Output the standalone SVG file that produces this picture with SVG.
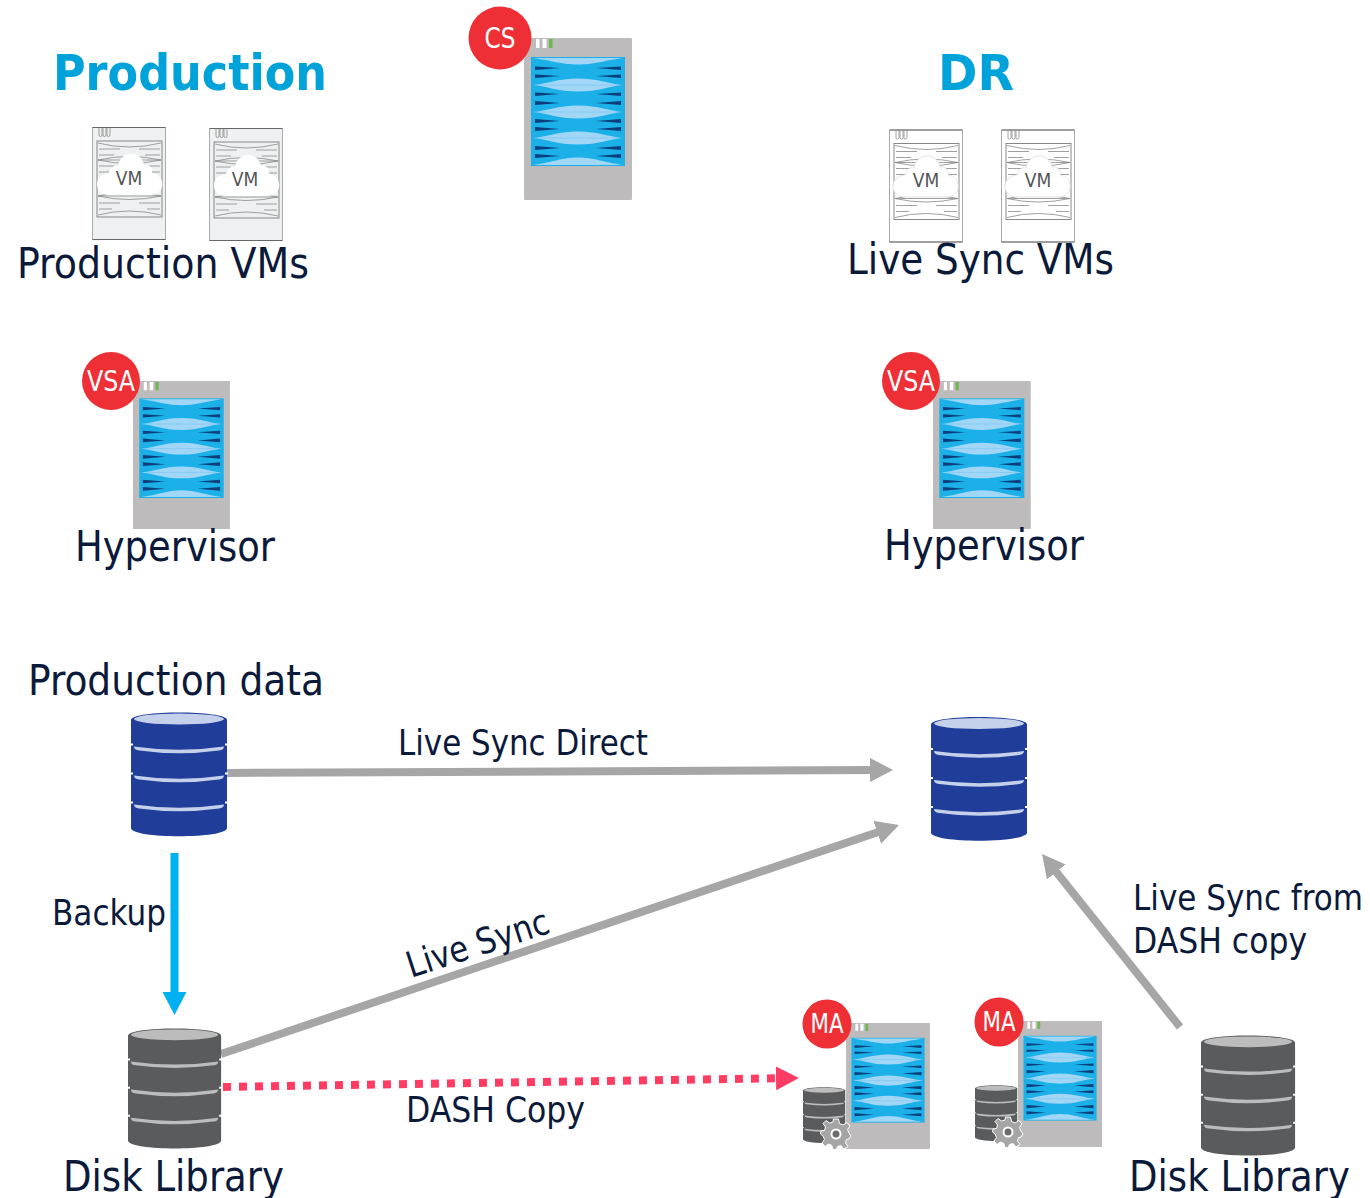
<svg xmlns="http://www.w3.org/2000/svg" width="1370" height="1198" viewBox="0 0 1370 1198">
<style>
text{font-family:"DejaVu Sans Condensed","DejaVu Sans",sans-serif;}
.t{font-size:43px;fill:#0b1a3a}
.m{font-size:36px;fill:#0b1a3a}
.h{font-size:50px;font-weight:bold;fill:#00a3d9}
.b{fill:#fff;text-anchor:middle}
.vm{font-size:19px;fill:#555;text-anchor:middle}
.c{stroke:#a6a6a6;stroke-width:8;fill:none}
</style>
<defs>
<marker id="ag" markerUnits="userSpaceOnUse" markerWidth="26" markerHeight="26" refX="2" refY="12" orient="auto"><path d="M0 0L23 12L0 24Z" fill="#a6a6a6"/></marker>
<marker id="ab" markerUnits="userSpaceOnUse" markerWidth="26" markerHeight="26" refX="2" refY="12" orient="auto"><path d="M0 0L23 12L0 24Z" fill="#00b0f0"/></marker>
<marker id="ar" markerUnits="userSpaceOnUse" markerWidth="26" markerHeight="26" refX="2" refY="12" orient="auto"><path d="M0 0L23 12L0 24Z" fill="#ff3d64"/></marker>
<path id="lens" d="M0 0C14 -1 24 -6.500 45 -6.500C66 -6.500 76 -1 90 0C76 1 66 6.500 45 6.500C24 6.500 14 1 0 0Z"/>
<g id="srv">
<rect width="108" height="162" fill="#bdbbbb" rx="1"/>
<path d="M12 1h3.500v9H12zM18.500 1h4v9h-4z" fill="#fff"/>
<rect x="25" y="1" width="3.500" height="9" fill="#6cb84c"/>
<rect x="7" y="19" width="94" height="109" fill="#1bb0e8"/>
<g fill="#a2d6f7">
<path d="M9 20H99C78 23 70 26.500 54 26.500C38 26.500 30 23 9 20Z"/>
<use href="#lens" x="9" y="47"/>
<use href="#lens" x="9" y="74"/>
<use href="#lens" x="9" y="100"/>
<path d="M9 127H99C78 124 70 119.500 54 119.500C38 119.500 30 124 9 127Z"/>
</g>
<path d="M14 47H94M14 74H94M14 100H94" stroke="#7cc8f0" stroke-width=".8"/>
<g fill="#0b3f7c">
<path d="M11 28.500L36 30L11 32ZM11 36.500L36 38L11 40ZM11 54.500L36 56L11 58ZM11 63L36 65L11 67ZM11 81L36 83L11 85ZM11 89L36 91L11 93ZM11 108L36 110L11 112ZM11 116L36 118L11 120Z"/>
<path d="M97 28.500L72 30L97 32ZM97 36.500L72 38L97 40ZM97 54.500L72 56L97 58ZM97 63L72 65L97 67ZM97 81L72 83L97 85ZM97 89L72 91L97 93ZM97 108L72 110L97 112ZM97 116L72 118L97 120Z"/>
</g>
</g>
<g id="vmbox">
<path d="M0.500 0.500H73.500V112.500H0.500Z" stroke="#aaa" stroke-width="1"/>
<path d="M0.500 0.500H73.500M0.500 112.500H73.500" stroke="#666" stroke-width="1"/>
<rect x="5" y="14" width="65" height="76" fill="none" stroke="#888" stroke-width="1"/>
<path d="M7 1v7a1.500 1.500 0 0 0 3 0v-7M11 1v7a1.500 1.500 0 0 0 3 0v-7M15 1v7a1.500 1.500 0 0 0 3 0v-7" fill="none" stroke="#888" stroke-width=".8"/>
<g fill="none" stroke="#888" stroke-width=".8">
<path d="M6 16Q37 24 69 16M6 33H69M6 69H69M6 88Q37 80 69 88"/>
<path d="M6 33Q37 26 69 33Q37 40 6 33M6 69Q37 62 69 69Q37 76 6 69"/>
<path d="M7 22H28M7 28H22M7 39H22M7 45H18M7 60H18M7 76H28M7 82H20M68 22H47M68 28H53M68 39H53M68 45H57M68 60H57M68 76H47M68 82H55"/>
</g>
</g>
<path id="cloud" d="M12 41C-4 41 -4 20 12 19C13 13 18 11 21 12C24 -4 44 -4 47 11C53 10 56 15 55 19C69 21 69 41 53 41Z"/>
<g id="cyl">
<path d="M0 8C0 -2 96 -2 96 8V116C96 127 0 127 0 116Z"/>
<ellipse cx="48" cy="7" rx="45" ry="5.500" fill="currentColor"/>
<path d="M3 34.500Q48 41 93 34.500Q93 38 88 38.500Q48 44 8 38.500Q3 38 3 34.500ZM3 63.500Q48 70 93 63.500Q93 67 88 67.500Q48 73 8 67.500Q3 67 3 63.500ZM3 92.500Q48 99 93 92.500Q93 96 88 96.500Q48 102 8 96.500Q3 96 3 92.500Z" fill="currentColor"/>
<path d="M-1 32.500H2M94 32.500H97M-1 61.500H2M94 61.500H97M-1 90.500H2M94 90.500H97" stroke="#fff" stroke-width="2"/>
</g>
<g id="gear">
<path d="M-2.500 -15H2.500L3.500 -10.500L7 -9L11 -11.500L14 -8L11.500 -4.500L13 -1L15 2L13 5L10.500 5.500L9.500 9L12 12.500L8 15L5 11.500L1.500 12.500L0 16L-3.500 15L-4 11.500L-7.500 10L-11 12.500L-14 9L-11.500 5.500L-13 2L-15.500 0L-15 -3L-11.500 -3.500L-10.500 -7L-13 -10.500L-10 -13.500L-6.500 -11L-3 -12Z" fill="#a5a5a5" stroke="#fff" stroke-width="1"/>
<circle r="5.500" fill="#fff"/><circle r="3.500" fill="#6b6b6b"/>
</g>
</defs>

<g id="connectors">
<path class="c" d="M227 773L872 770" marker-end="url(#ag)"/>
<path class="c" d="M221 1054L879.100 831.700" marker-end="url(#ag)"/>
<path class="c" d="M1180 1027L1055.100 870.400" marker-end="url(#ag)"/>
<path d="M174.500 853V994" stroke="#00b0f0" stroke-width="8" fill="none" marker-end="url(#ab)"/>
<path d="M223 1087L778 1078.300" stroke="#ff3d64" stroke-width="8" stroke-dasharray="8 8" fill="none" marker-end="url(#ar)"/>
</g>

<g id="title-production"><text class="h" x="53" y="90" textLength="274" lengthAdjust="spacingAndGlyphs">Production</text></g>
<g id="title-dr"><text class="h" x="938" y="90" textLength="76" lengthAdjust="spacingAndGlyphs">DR</text></g>

<g id="cs"><use href="#srv" transform="translate(524 38)"/><circle cx="500" cy="38" r="31.500" fill="#ef2f36"/><text class="b" x="500" y="48" font-size="29" textLength="31" lengthAdjust="spacingAndGlyphs">CS</text></g>

<g id="vm-p1"><use href="#vmbox" fill="#eef1f1" transform="translate(92 127)"/><use href="#cloud" fill="#fff" transform="translate(97 154)"/><text class="vm" x="129" y="185">VM</text></g>
<g id="vm-p2"><use href="#vmbox" fill="#eef1f1" transform="translate(209 128)"/><use href="#cloud" fill="#fff" transform="translate(214 155)"/><text class="vm" x="245" y="186">VM</text></g>
<g id="vm-d1"><use href="#vmbox" fill="#fff" transform="translate(889 129.500)"/><use href="#cloud" fill="#fff" stroke="#e4e4e4" transform="translate(893 156)"/><text class="vm" x="926" y="187">VM</text></g>
<g id="vm-d2"><use href="#vmbox" fill="#fff" transform="translate(1001 129.500)"/><use href="#cloud" fill="#fff" stroke="#e4e4e4" transform="translate(1005 156)"/><text class="vm" x="1038" y="187">VM</text></g>

<g id="label-pvms"><text class="t" x="17" y="278" textLength="292" lengthAdjust="spacingAndGlyphs">Production VMs</text></g>
<g id="label-lvms"><text class="t" x="847" y="274" textLength="267" lengthAdjust="spacingAndGlyphs">Live Sync VMs</text></g>

<g id="hv-p"><use href="#srv" transform="translate(133 381) scale(.898 .914)"/><circle cx="111" cy="381" r="29" fill="#ef2f36"/><text class="b" x="111" y="391" font-size="29" textLength="48" lengthAdjust="spacingAndGlyphs">VSA</text></g>
<g id="hv-d"><use href="#srv" transform="translate(933 381) scale(.905 .914)"/><circle cx="911" cy="381" r="29" fill="#ef2f36"/><text class="b" x="911" y="391" font-size="29" textLength="48" lengthAdjust="spacingAndGlyphs">VSA</text></g>
<g id="label-hv1"><text class="t" x="75" y="561" textLength="200" lengthAdjust="spacingAndGlyphs">Hypervisor</text></g>
<g id="label-hv2"><text class="t" x="884" y="560" textLength="200" lengthAdjust="spacingAndGlyphs">Hypervisor</text></g>
<g id="label-pdata"><text class="t" x="28" y="695" textLength="296" lengthAdjust="spacingAndGlyphs">Production data</text></g>

<g id="db-prod"><use href="#cyl" fill="#1f3d99" color="#c5d1ea" transform="translate(131 712)"/></g>
<g id="db-dr"><use href="#cyl" fill="#1f3d99" color="#c5d1ea" transform="translate(931 716.500)"/></g>
<g id="disk-1"><use href="#cyl" fill="#5a5b5d" color="#bdbcbc" transform="translate(128 1028) scale(.97 .97)"/></g>
<g id="disk-2"><use href="#cyl" fill="#5a5b5d" color="#bdbcbc" transform="translate(1201 1035) scale(.98 .97)"/></g>

<g id="ma-1"><use href="#srv" transform="translate(846 1023) scale(.778 .778)"/><circle cx="827" cy="1024" r="24.500" fill="#ef2f36"/><text class="b" x="827" y="1033" font-size="26" textLength="33" lengthAdjust="spacingAndGlyphs">MA</text><use href="#cyl" fill="#5a5b5d" color="#bdbcbc" transform="translate(803 1087) scale(.44 .45)"/><use href="#gear" transform="translate(836 1134)"/></g>
<g id="ma-2"><use href="#srv" transform="translate(1018 1021) scale(.778 .778)"/><circle cx="999" cy="1022" r="24.500" fill="#ef2f36"/><text class="b" x="999" y="1031" font-size="26" textLength="33" lengthAdjust="spacingAndGlyphs">MA</text><use href="#cyl" fill="#5a5b5d" color="#bdbcbc" transform="translate(975 1085) scale(.44 .45)"/><use href="#gear" transform="translate(1008 1132)"/></g>

<g id="label-lsd"><text class="m" x="398" y="755" textLength="250" lengthAdjust="spacingAndGlyphs">Live Sync Direct</text></g>
<g id="label-backup"><text class="m" x="52" y="925" textLength="114" lengthAdjust="spacingAndGlyphs">Backup</text></g>
<g id="label-ls"><text class="m" transform="translate(411 978) rotate(-18)" textLength="148" lengthAdjust="spacingAndGlyphs">Live Sync</text></g>
<g id="label-dash"><text class="m" x="406" y="1122" textLength="179" lengthAdjust="spacingAndGlyphs">DASH Copy</text></g>
<g id="label-lsfd"><text class="m" x="1133" y="910" textLength="230" lengthAdjust="spacingAndGlyphs">Live Sync from</text><text class="m" x="1133" y="953" textLength="174" lengthAdjust="spacingAndGlyphs">DASH copy</text></g>
<g id="label-dl1"><text class="t" x="63" y="1191" textLength="221" lengthAdjust="spacingAndGlyphs">Disk Library</text></g>
<g id="label-dl2"><text class="t" x="1129" y="1191" textLength="221" lengthAdjust="spacingAndGlyphs">Disk Library</text></g>
</svg>
